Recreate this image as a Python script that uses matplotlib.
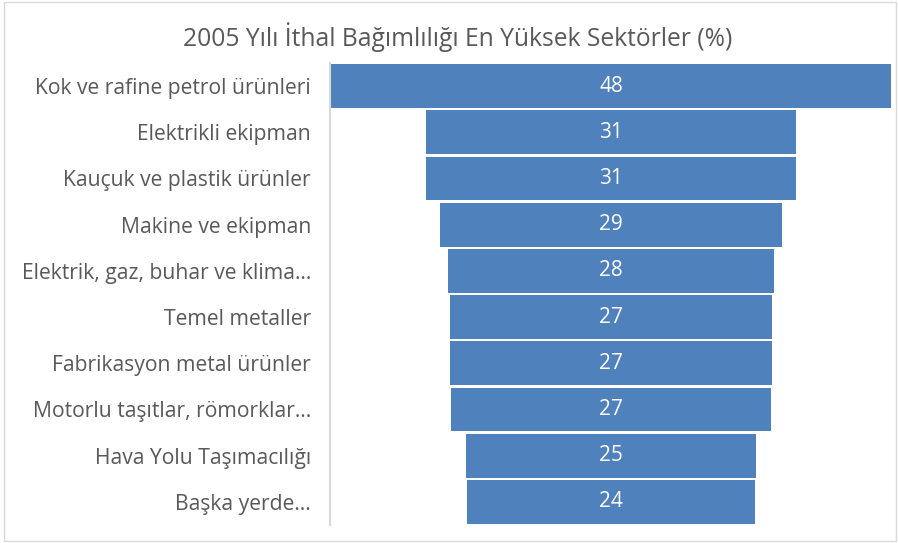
import matplotlib
matplotlib.use("Agg")
import matplotlib.pyplot as plt
from matplotlib.patches import Rectangle

# sector names (top to bottom) and import dependency shares
sectors = ["Kok ve rafine petrol ürünleri", "Elektrikli ekipman",
           "Kauçuk ve plastik ürünler", "Makine ve ekipman",
           "Elektrik, gaz, buhar ve klima…", "Temel metaller",
           "Fabrikasyon metal ürünler", "Motorlu taşıtlar, römorklar…",
           "Hava Yolu Taşımacılığı", "Başka yerde…"]
values = [47.6, 31.4, 31.4, 29.0, 27.7, 27.4, 27.4, 27.2, 24.7, 24.5]

plt.rcParams['font.family'] = ['Open Sans', 'DejaVu Sans']

fig = plt.figure(figsize=(8.98, 5.43), dpi=100)
ax = fig.add_axes([329.5/898, 1-525/543, (891-329.5)/898, (525-63)/543])

n = len(values)
ypos = list(range(n))
lefts = [-v/2 for v in values]
ax.barh(ypos, values, left=lefts, height=0.95, color='#4F81BD')
for y, v in zip(ypos, values):
    ax.text(0, y, f"{v:.0f}", ha='center', va='center', color='white', fontsize=15)

vmax = max(values)
ax.set_xlim(-vmax/2 - 0.13, vmax/2)
ax.set_ylim(n - 0.5, -0.5)
ax.set_yticks(ypos)
ax.set_yticklabels(sectors, fontsize=15.2, color='#595959')
ax.tick_params(axis='y', length=0, pad=13.3)
ax.set_xticks([])
for s in ['top', 'right', 'bottom']:
    ax.spines[s].set_visible(False)
ax.spines['left'].set_color('#D9D9D9')
ax.spines['left'].set_linewidth(1.5)

fig.text(458/898, 1-37/543, "2005 Yılı İthal Bağımlılığı En Yüksek Sektörler (%)",
         ha='center', va='center', fontsize=17.7, color='#595959')

fig.patches.append(Rectangle((4/898, 2/543), 892/898, 539/543, transform=fig.transFigure,
                             fill=False, edgecolor='#D9D9D9', linewidth=1))

fig.savefig("out.png", dpi=100)
